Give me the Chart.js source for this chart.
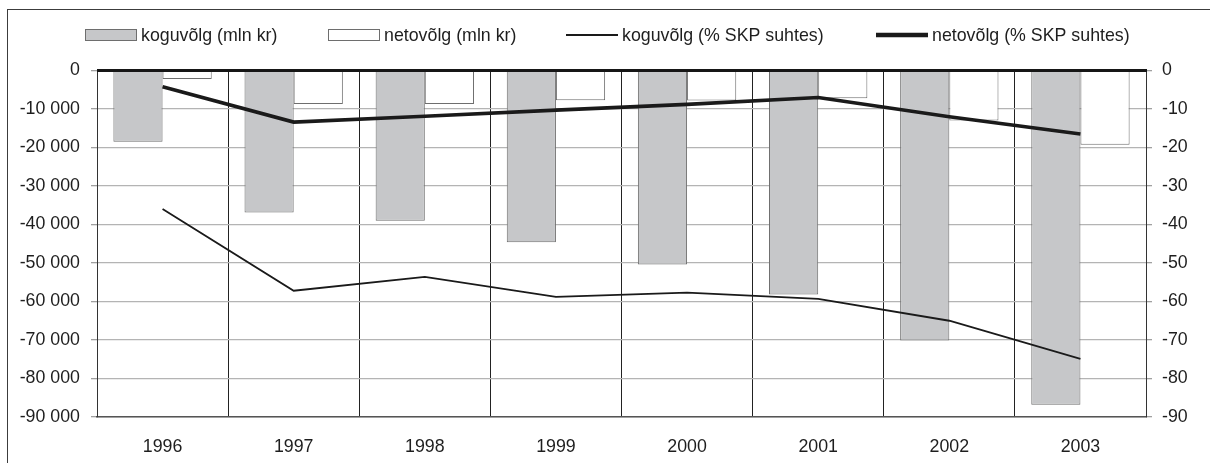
<!DOCTYPE html>
<html>
<head>
<meta charset="utf-8">
<script src="https://cdn.jsdelivr.net/npm/chart.js@4.4.1/dist/chart.umd.min.js"></script>
<style>
  html, body { margin: 0; padding: 0; background: #fff; }
  #wrap { width: 1210px; height: 463px; position: relative; }
</style>
</head>
<body>
<div id="wrap"><canvas id="c" width="1210" height="463"></canvas></div>
<script>
const categories = ['1996', '1997', '1998', '1999', '2000', '2001', '2002', '2003'];
const koguvolgMln = [-18500, -36900, -39000, -44600, -50400, -58200, -70100, -86800];
const netovolgMln = [-2200, -8700, -8700, -7700, -7800, -7200, -13000, -19300];
const koguvolgPct = [-36.0, -57.2, -53.6, -58.8, -57.7, -59.3, -65.0, -74.9];
const netovolgPct = [-4.2, -13.4, -11.9, -10.3, -8.8, -7.0, -12.0, -16.5];
const seriesNames = ['koguvõlg (mln kr)', 'netovõlg (mln kr)', 'koguvõlg (% SKP suhtes)', 'netovõlg (% SKP suhtes)'];

const FONT = 'Liberation Sans, Arial, Helvetica, sans-serif';
const FS = 17.8;
const TXT = '#1e1e1e';

function fmtThousands(v) {
  if (v === 0) return '0';
  const s = String(Math.abs(Math.round(v))).replace(/\B(?=(\d{3})+(?!\d))/g, ' ');
  return (v < 0 ? '-' : '') + s;
}

const framePlugin = {
  id: 'frame',
  beforeDraw(chart) {
    const ctx = chart.ctx;
    ctx.save();
    ctx.fillStyle = '#fff';
    ctx.fillRect(0, 0, chart.width, chart.height);
    ctx.strokeStyle = '#3c3c3c';
    ctx.lineWidth = 1;
    ctx.strokeRect(7.5, 9.5, chart.width + 10, chart.height + 10);
    ctx.restore();
  }
};

const zeroLinePlugin = {
  id: 'zeroLine',
  afterDatasetsDraw(chart) {
    const {ctx, chartArea} = chart;
    const y = chart.scales.y.getPixelForValue(0);
    ctx.save();
    ctx.strokeStyle = '#161616';
    ctx.lineWidth = 3;
    ctx.beginPath();
    ctx.moveTo(chartArea.left, y);
    ctx.lineTo(chartArea.right + 1, y);
    ctx.stroke();
    ctx.restore();
  }
};

const legendPlugin = {
  id: 'customLegend',
  afterDraw(chart) {
    const ctx = chart.ctx;
    const xs = [85, 328, 566, 876];
    const yc = 35;
    ctx.save();
    ctx.font = FS + 'px ' + FONT;
    ctx.textBaseline = 'middle';
    ctx.textAlign = 'left';
    chart.data.datasets.forEach((ds, i) => {
      const x = xs[i];
      if (ds.type === 'line') {
        ctx.strokeStyle = ds.borderColor;
        ctx.lineWidth = ds.legendLineWidth;
        ctx.beginPath();
        ctx.moveTo(x, yc);
        ctx.lineTo(x + 52, yc);
        ctx.stroke();
      } else {
        ctx.fillStyle = ds.backgroundColor;
        ctx.fillRect(x, 29.5, 52, 11);
        ctx.strokeStyle = ds.borderColor;
        ctx.lineWidth = 1;
        ctx.strokeRect(x + 0.5, 29.5, 51, 11);
      }
      ctx.fillStyle = TXT;
      ctx.fillText(ds.label, x + 56, yc + 1);
    });
    ctx.restore();
  }
};

new Chart(document.getElementById('c'), {
  data: {
    labels: categories,
    datasets: [
      {
        type: 'bar', label: seriesNames[0], data: koguvolgMln, yAxisID: 'y', order: 2,
        backgroundColor: '#c6c7c9', borderColor: '#6e6e6e', borderWidth: 1,
        categoryPercentage: 0.75, barPercentage: 1.0
      },
      {
        type: 'bar', label: seriesNames[1], data: netovolgMln, yAxisID: 'y', order: 2,
        backgroundColor: '#ffffff', borderColor: '#6e6e6e', borderWidth: 1,
        categoryPercentage: 0.75, barPercentage: 1.0
      },
      {
        type: 'line', label: seriesNames[2], data: koguvolgPct, yAxisID: 'y2', order: 1,
        borderColor: '#1a1a1a', borderWidth: 1.8, pointRadius: 0, tension: 0, fill: false,
        legendLineWidth: 2.2
      },
      {
        type: 'line', label: seriesNames[3], data: netovolgPct, yAxisID: 'y2', order: 0,
        borderColor: '#1a1a1a', borderWidth: 3.6, pointRadius: 0, tension: 0, fill: false,
        legendLineWidth: 4.5
      }
    ]
  },
  options: {
    responsive: false,
    animation: false,
    devicePixelRatio: 1,
    layout: { padding: { top: 70.5, left: 0, right: 0, bottom: 0 } },
    plugins: {
      legend: { display: false },
      title: { display: false },
      tooltip: { enabled: false }
    },
    scales: {
      x: {
        type: 'category',
        offset: true,
        grid: { offset: true, color: '#222', lineWidth: 1, drawTicks: false },
        border: { display: true, color: '#555', width: 1.6 },
        ticks: { color: TXT, font: { family: FONT, size: FS }, padding: 19, maxRotation: 0 },
        afterFit(scale) { scale.height = 46; }
      },
      y: {
        type: 'linear', position: 'left',
        min: -90000, max: 0,
        grid: {
          color: '#b4b4b4', lineWidth: 1.3, tickLength: 6, tickColor: '#a0a0a0'
        },
        border: { display: true, color: '#333', width: 1 },
        ticks: {
          stepSize: 10000, color: TXT, font: { family: FONT, size: FS }, padding: 11,
          callback: (v) => fmtThousands(v)
        },
        afterFit(scale) { scale.width = 97; }
      },
      y2: {
        type: 'linear', position: 'right',
        min: -90, max: 0,
        grid: { drawOnChartArea: false, tickLength: 6, color: '#a0a0a0', lineWidth: 1.3 },
        border: { display: true, color: '#333', width: 1 },
        ticks: {
          stepSize: 10, color: TXT, font: { family: FONT, size: FS }, padding: 10,
          callback: (v) => String(v)
        },
        afterFit(scale) { scale.width = 64; }
      }
    }
  },
  plugins: [framePlugin, zeroLinePlugin, legendPlugin]
});
</script>
</body>
</html>
